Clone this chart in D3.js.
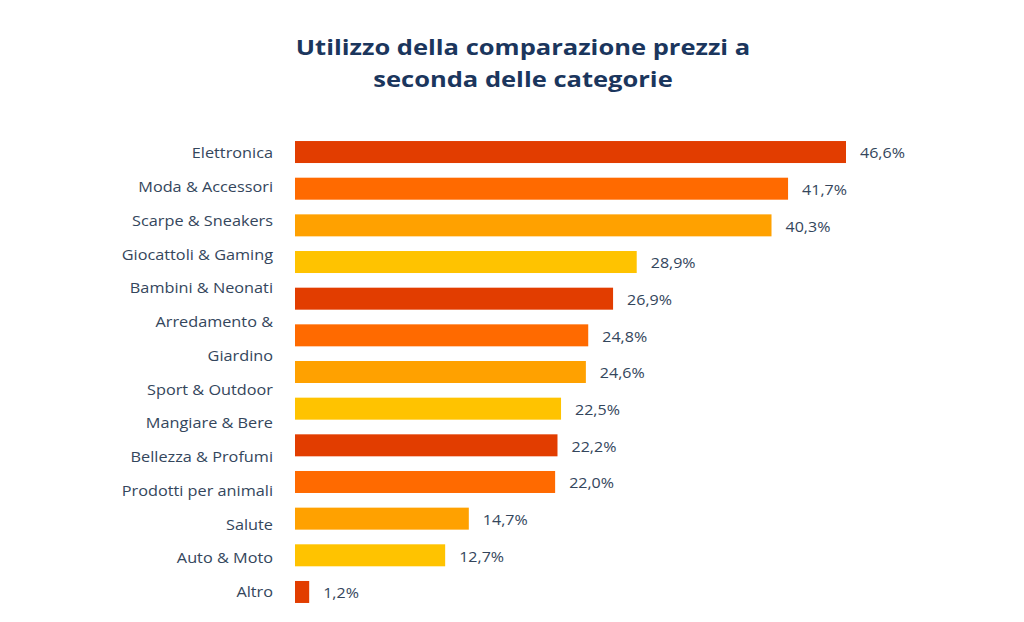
<!DOCTYPE html>
<html>
<head>
<meta charset="utf-8">
<script src="https://cdn.jsdelivr.net/npm/d3@7"></script>
<style>
  html, body { margin: 0; padding: 0; background: #ffffff; }
  svg { display: block; font-family: "Open Sans", sans-serif; }
</style>
</head>
<body>
<div id="chart"></div>
<script>
const titleLines = ["Utilizzo della comparazione prezzi a", "seconda delle categorie"];
const categories = ["Elettronica", "Moda & Accessori", "Scarpe & Sneakers", "Giocattoli & Gaming",
  "Bambini & Neonati", "Arredamento & Giardino", "Sport & Outdoor", "Mangiare & Bere",
  "Bellezza & Profumi", "Prodotti per animali", "Salute", "Auto & Moto", "Altro"];
const values = [46.6, 41.7, 40.3, 28.9, 26.9, 24.8, 24.6, 22.5, 22.2, 22.0, 14.7, 12.7, 1.2];
// label lines as laid out in the original (one category wraps onto two lines)
const labelLines = ["Elettronica", "Moda & Accessori", "Scarpe & Sneakers", "Giocattoli & Gaming",
  "Bambini & Neonati", "Arredamento &", "Giardino", "Sport & Outdoor", "Mangiare & Bere",
  "Bellezza & Profumi", "Prodotti per animali", "Salute", "Auto & Moto", "Altro"];
const palette = ["#E23D00", "#FF6A00", "#FFA100", "#FFC300"];

const W = 1024, H = 622;
const svg = d3.select("#chart").append("svg").attr("width", W).attr("height", H);

// title (original image is slightly stretched horizontally)
svg.append("g").selectAll("text").data(titleLines).join("text")
  .attr("transform", (d, i) => `translate(523,${55 + i * 31.5}) scale(1.15,1)`)
  .attr("text-anchor", "middle")
  .attr("font-size", 22.2)
  .attr("font-weight", 700)
  .attr("fill", "#1B365D")
  .text(d => d);

const x = d3.scaleLinear().domain([0, 46.6]).range([295, 846]);
const y = d3.scaleBand().domain(categories).range([133.7, 610.3]).paddingInner(0.4).paddingOuter(0.2);
const color = d3.scaleOrdinal().domain(categories).range(palette);

const data = categories.map((c, i) => ({ c, v: values[i] }));

svg.append("g").selectAll("rect").data(data).join("rect")
  .attr("x", x(0))
  .attr("y", d => y(d.c))
  .attr("width", d => x(d.v) - x(0))
  .attr("height", y.bandwidth())
  .attr("fill", d => color(d.c));

const fmt = v => d3.format(".1f")(v).replace(".", ",") + "%";
svg.append("g").selectAll("text").data(data).join("text")
  .attr("transform", d => `translate(${x(d.v) + 14},${y(d.c) + y.bandwidth() / 2 + 1}) scale(1.07,1)`)
  .attr("dy", "0.35em")
  .attr("font-size", 15)
  .attr("fill", "#34465C")
  .text(d => fmt(d.v));

const ly = d3.scaleLinear().domain([0, labelLines.length - 1]).range([153, 592]);
svg.append("g").selectAll("text").data(labelLines).join("text")
  .attr("transform", (d, i) => `translate(273,${ly(i)}) scale(1.085,1)`)
  .attr("dy", "0.35em")
  .attr("text-anchor", "end")
  .attr("font-size", 15)
  .attr("fill", "#34465C")
  .text(d => d);
</script>
</body>
</html>
